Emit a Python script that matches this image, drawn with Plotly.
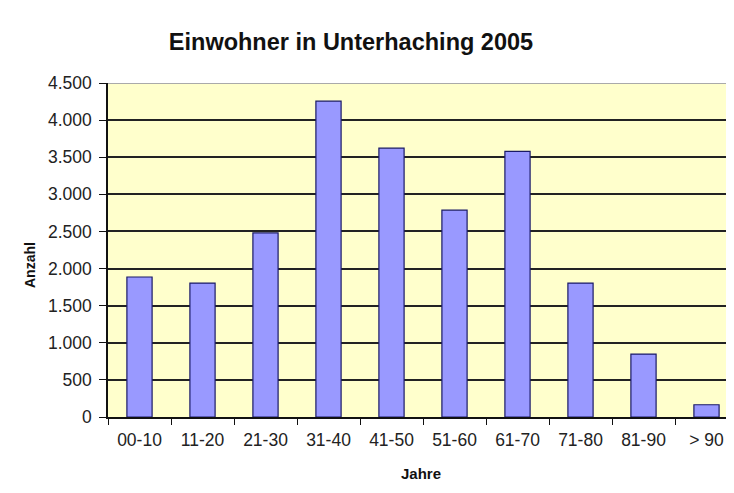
import plotly.graph_objects as go

categories = ["00-10", "11-20", "21-30", "31-40", "41-50", "51-60", "61-70", "71-80", "81-90", "> 90"]
einwohner = [1886, 1805, 2480, 4255, 3622, 2787, 3578, 1805, 848, 165]
y_ticks = [0, 500, 1000, 1500, 2000, 2500, 3000, 3500, 4000, 4500]

font_family = "Liberation Sans, Arial, sans-serif"

# page has an 8px body margin, so figure is sized/positioned to compensate
W, H, OFF = 726, 485, 8

fig = go.Figure(
    go.Bar(
        x=categories,
        y=einwohner,
        width=0.4,
        marker=dict(color="#9999FF", line=dict(color="#1a1a66", width=1.2)),
    )
)

fig.update_layout(
    width=W,
    height=H,
    margin=dict(l=108 - OFF, r=0, t=83 - OFF, b=76, autoexpand=False),
    paper_bgcolor="white",
    plot_bgcolor="#FFFFCC",
    separators=",.",
    showlegend=False,
    font=dict(family=font_family, color="#222"),
    title=dict(
        text="<b>Einwohner in Unterhaching 2005</b>",
        font=dict(size=23.5, color="#111", family=font_family),
        x=(351 - OFF) / W, xref="container", xanchor="center",
        y=1 - (42 - OFF) / H, yref="container", yanchor="middle",
    ),
)

fig.update_xaxes(
    type="category",
    range=[-0.5, 9.5 - 4 / 63],
    showline=True, linecolor="#111", linewidth=1.5,
    ticks="outside", tickson="boundaries", ticklen=6, tickcolor="#111",
    tickfont=dict(size=17.5, color="#222"),
    ticklabelstandoff=6,
    showgrid=False,
)

fig.update_yaxes(
    range=[0, 4500],
    tickvals=y_ticks,
    tickformat=",d",
    showline=True, linecolor="#111", linewidth=1.5,
    ticks="outside", ticklen=7, tickcolor="#111",
    tickfont=dict(size=17.5, color="#222"),
    ticklabelstandoff=4,
    showgrid=True, gridcolor="#222", gridwidth=1.5,
    zeroline=False,
)

fig.add_shape(type="line", xref="paper", yref="y", x0=0, x1=1, y0=4500, y1=4500,
              line=dict(color="#aaaaaa", width=2))

fig.add_annotation(text="<b>Anzahl</b>", textangle=-90, xref="paper", yref="paper",
                   x=(30 - 108) / 626, y=(417 - 265) / 334, showarrow=False,
                   font=dict(size=14, color="#111"), xanchor="center", yanchor="middle")
fig.add_annotation(text="<b>Jahre</b>", xref="paper", yref="paper",
                   x=(421 - 108) / 626, y=(417 - 473) / 334, showarrow=False,
                   font=dict(size=15, color="#111"), xanchor="center", yanchor="middle")

fig.write_html("out.html")
